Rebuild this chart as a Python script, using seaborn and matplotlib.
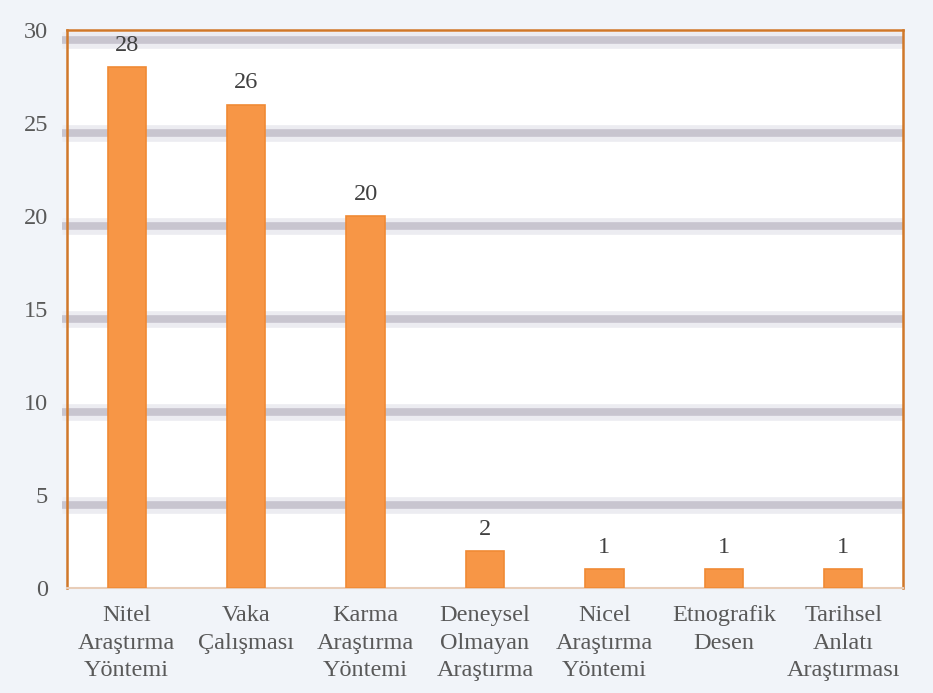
import numpy as np
import pandas as pd
import matplotlib
matplotlib.use("Agg")
from matplotlib import pyplot as plt
from matplotlib.transforms import ScaledTranslation
import seaborn as sns

categories = ["Nitel\nAraştırma\nYöntemi", "Vaka\nÇalışması", "Karma\nAraştırma\nYöntemi",
              "Deneysel\nOlmayan\nAraştırma", "Nicel\nAraştırma\nYöntemi", "Etnografik\nDesen",
              "Tarihsel\nAnlatı\nAraştırması"]
counts = [28, 26, 20, 2, 1, 1, 1]
yticks = [0, 5, 10, 15, 20, 25, 30]

sns.set_theme(style="white")
plt.rcParams['font.family'] = ['Liberation Serif', 'DejaVu Serif']

df = pd.DataFrame({'kategori': categories, 'sayi': counts})

fig = plt.figure(figsize=(9.33, 6.93), dpi=100)
fig.patch.set_facecolor('#F1F4F9')
ax = fig.add_axes([0.0718, 0.1515, 0.896, 0.805])
ax.set_facecolor('white')

sns.barplot(data=df, x='kategori', y='sayi', color='#F79646', width=0.32,
            edgecolor='#F08A35', linewidth=1.2, saturation=1, ax=ax, zorder=3)

ax.set_ylim(0, 30)
ax.set_xlim(-0.5, 6.5)
ax.set_yticks(yticks)
ax.set_xlabel('')
ax.set_ylabel('')

# shadowed thick gridlines, drawn a bit below the value
trans = ax.get_yaxis_transform() + ScaledTranslation(0, -0.095, fig.dpi_scale_trans)
grid_vals = yticks[1:]
ax.hlines(grid_vals, -0.006, 1.0, transform=trans, colors='#ECECF1', linewidth=12, zorder=1, clip_on=False)
ax.hlines(grid_vals, -0.006, 1.0, transform=trans, colors='#C8C5CF', linewidth=5.5, zorder=2, clip_on=False)

for i, v in enumerate(counts):
    ax.annotate(str(v), (i, v), xytext=(0, 8), textcoords='offset points',
                ha='center', va='bottom', fontsize=17.5, color='#404040')

ax.tick_params(axis='y', length=0, pad=13.5, labelsize=17.5, labelcolor='#595959')
ax.tick_params(axis='x', length=0, pad=12, labelsize=17.5, labelcolor='#595959')
for lbl in ax.get_xticklabels():
    lbl.set_linespacing(1.43)

for s in ['top', 'left', 'right']:
    ax.spines[s].set_color('#D0782A')
    ax.spines[s].set_linewidth(1.8)
ax.spines['bottom'].set_color('#E8CDB8')
ax.spines['bottom'].set_linewidth(1.5)

fig.savefig('out.png', dpi=100, facecolor=fig.get_facecolor())
